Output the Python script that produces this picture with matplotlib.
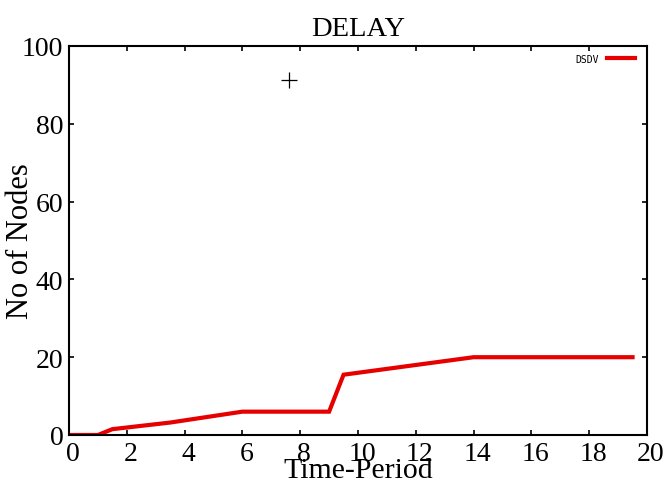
"""Recreate the DSDV delay chart."""

import matplotlib
matplotlib.use('Agg')
import matplotlib.pyplot as plt
import matplotlib.transforms as mtransforms

time_period = [0, 1, 1.5, 3.5, 6, 9, 9.5, 12, 14, 19.5]
dsdv_nodes = [0, 0, 1.5, 3.2, 6, 6, 15.5, 18, 20, 20]
cursor_point = (7.6, 91.3)
x_ticks = [0, 2, 4, 6, 8, 10, 12, 14, 16, 18, 20]
y_ticks = [0, 20, 40, 60, 80, 100]


def make_plot():
    """Draw the delay line plot and save it."""
    plt.rcParams['font.family'] = ['Liberation Serif', 'DejaVu Serif']
    fig = plt.figure(figsize=(6.64, 4.85), dpi=100)
    ax = fig.add_axes([69 / 664, 1 - 436 / 485, 578 / 664, 389 / 485])

    ax.plot(time_period, dsdv_nodes, color='#e60000', linewidth=3.0,
            solid_joinstyle='miter', label='DSDV')
    ax.plot(*cursor_point, marker='+', color='black', markersize=12,
            markeredgewidth=0.9)

    ax.set_xlim(0, 20)
    ax.set_ylim(0, 100)
    ax.set_xticks(x_ticks)
    ax.set_yticks(y_ticks)
    ax.tick_params(direction='in', top=True, right=True, length=3.5,
                   width=1.2, labelsize=20)
    ax.tick_params(axis='x', pad=4)
    ax.tick_params(axis='y', pad=4)
    # gnuplot puts the x labels a little right of their ticks
    shift = mtransforms.ScaledTranslation(4 / 100, 0, fig.dpi_scale_trans)
    for label in ax.get_xticklabels():
        label.set_transform(label.get_transform() + shift)
    for spine in ax.spines.values():
        spine.set_linewidth(1.5)

    ax.set_title('DELAY', fontsize=20.5, pad=8)
    ax.set_xlabel('Time-Period', fontsize=21.5)
    ax.set_ylabel('No of Nodes', fontsize=22)
    ax.xaxis.set_label_coords(0.5, (436 - 458) / 389)
    ax.yaxis.set_label_coords((35 - 69) / 578, 0.5)

    ax.legend(loc='upper right', bbox_to_anchor=(1, 1 + 4 / 389),
              frameon=False,
              prop={'family': 'DejaVu Sans Mono', 'size': 7},
              handlelength=2.9, handletextpad=0.8, borderaxespad=0.8,
              markerfirst=False)

    fig.savefig('out.png', dpi=100)


if __name__ == '__main__':
    make_plot()
